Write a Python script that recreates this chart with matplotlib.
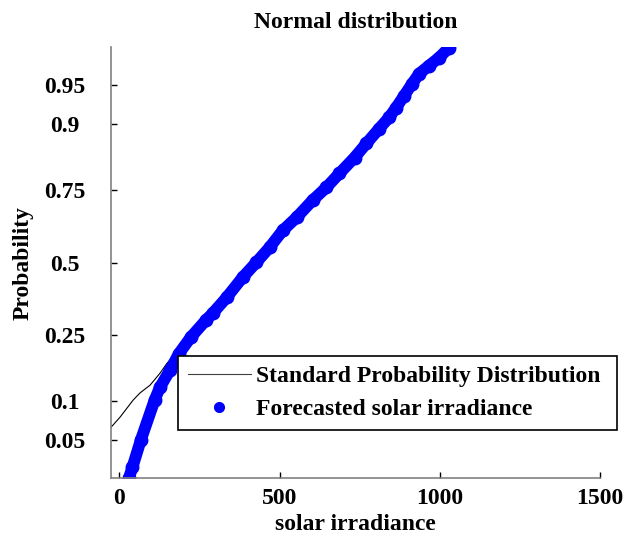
import matplotlib
matplotlib.use("Agg")
import matplotlib.pyplot as plt
from matplotlib.lines import Line2D
from statistics import NormalDist

# forecasted solar irradiance (sorted) and plotting probabilities
irradiance = [30, 41, 67, 110, 127, 158, 186, 223, 270, 292, 335, 385, 428, 469, 510,
              553, 603, 646, 687, 734, 771, 811, 842, 864, 889, 914, 936, 967, 998, 1029]
prob = [0.0228, 0.0288, 0.0497, 0.1008, 0.1237, 0.1587, 0.199, 0.244, 0.296, 0.3195,
        0.373, 0.4455, 0.501, 0.556, 0.617, 0.662, 0.718, 0.757, 0.796, 0.835,
        0.8654, 0.893, 0.911, 0.9248, 0.9393, 0.9516, 0.9602, 0.9662, 0.9714, 0.9769]

# standard probability distribution line (visible part, rest hidden under the markers)
std_x = [-26, 2, 43, 64, 96, 127, 149, 164, 195]
std_p = [0.0631, 0.0755, 0.1008, 0.1128, 0.1276, 0.1522, 0.1752, 0.1873, 0.2212]

prob_ticks = [0.05, 0.1, 0.25, 0.5, 0.75, 0.9, 0.95]
x_ticks = [0, 500, 1000, 1500]

nd = NormalDist()
z = [nd.inv_cdf(p) for p in prob]
std_z = [nd.inv_cdf(p) for p in std_p]

plt.rcParams['font.family'] = 'Liberation Serif'
plt.rcParams['font.weight'] = 'bold'

fig = plt.figure(figsize=(6.24, 5.38), dpi=100)
ax = fig.add_axes([0.1779, 0.1115, 0.7836, 0.8011])

ax.plot(std_x, std_z, color='black', lw=0.8)
ax.plot(irradiance, z, color='blue', lw=8.5, solid_capstyle='round', solid_joinstyle='round')
ax.plot(irradiance, z, 'o', color='blue', ms=9)

ax.set_xlim(-26, 1500)
ax.set_ylim(-2.0, 2.0)
ax.set_xticks(x_ticks)
ax.set_xticklabels([str(t) for t in x_ticks])
ax.set_yticks([nd.inv_cdf(p) for p in prob_ticks])
ax.set_yticklabels([str(p) for p in prob_ticks])
for lab in ax.get_yticklabels():
    lab.set_ha('center')

ax.tick_params(axis='y', direction='in', length=4, width=1, pad=33, labelsize=17)
ax.tick_params(axis='x', direction='in', length=4, width=1, pad=7, labelsize=17)
for s in ['top', 'right']:
    ax.spines[s].set_visible(False)
for s in ['left', 'bottom']:
    ax.spines[s].set_color('#808080')
    ax.spines[s].set_linewidth(1.2)

ax.set_title('Normal distribution', fontsize=17, fontweight='bold', pad=14)
ax.set_xlabel('solar irradiance', fontsize=17, fontweight='bold', labelpad=4)
ax.set_ylabel('Probability', fontsize=17, fontweight='bold', labelpad=8)

handles = [Line2D([], [], color='#404040', lw=0.8),
           Line2D([], [], color='blue', marker='o', ms=7, ls='none')]
leg = fig.legend(handles, ['Standard Probability Distribution', 'Forecasted solar irradiance'],
                 loc='upper left', bbox_to_anchor=(0.2853, 0.2100, 0.7035, 0.1283),
                 mode='expand', borderaxespad=0,
                 fancybox=False, framealpha=1, edgecolor='black', fontsize=17,
                 handlelength=2.65, handletextpad=0.25, labelspacing=0.46,
                 borderpad=0.42, numpoints=1)
leg.get_frame().set_linewidth(1.2)

fig.savefig('out.png', dpi=100)
